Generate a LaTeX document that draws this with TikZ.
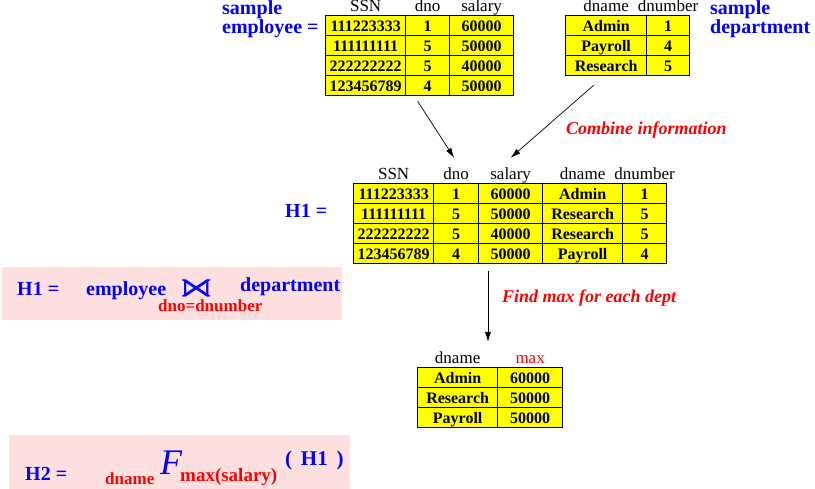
\documentclass[tikz,border=0pt]{standalone}
\usepackage{amssymb}
\usepackage{graphicx}
\usepackage{fontspec}
\setmainfont{Liberation Serif}
\usetikzlibrary{matrix, positioning, arrows.meta}

\definecolor{cellyellow}{RGB}{255,255,0}
\definecolor{formpink}{RGB}{255,224,224}

\begin{document}
\begin{tikzpicture}[x=1pt, y=-1pt, node distance=0pt,
  cell/.style={draw, fill=cellyellow, line width=0.9pt, minimum height=20pt, inner sep=0pt,
    text height=13pt, text depth=1pt, font=\bfseries\fontsize{16}{16}\selectfont},
  tbl/.style={matrix of nodes, nodes={cell}, column sep=-0.9pt, row sep=-0.9pt,
    anchor=north west, inner sep=0pt},
  hdr/.style={inner sep=0pt, text height=12pt, text depth=3pt, font=\fontsize{17}{17}\selectfont},
  lbl/.style={text=blue, inner sep=0pt, font=\bfseries\fontsize{20}{17}\selectfont},
  note/.style={text=red, inner sep=0pt, font=\bfseries\itshape\fontsize{18}{18}\selectfont},
  sub/.style={text=red, inner sep=0pt, font=\bfseries\fontsize{17}{17}\selectfont},
  arr/.style={-{Latex[length=10pt, width=6pt]}, line width=0.7pt}]
  \useasboundingbox (0,0) rectangle (815,489);

  % sample tables
  \matrix (emp) [tbl, column 1/.style={nodes={minimum width=80pt}},
    column 2/.style={nodes={minimum width=44pt}},
    column 3/.style={nodes={minimum width=64pt}}] at (325,15) {
    111223333 & 1 & 60000 \\
    111111111 & 5 & 50000 \\
    222222222 & 5 & 40000 \\
    123456789 & 4 & 50000 \\
  };
  \node[hdr] (essn) [above=of emp-1-1] {SSN};
  \node[hdr] (edno) [above=of emp-1-2] {dno};
  \node[hdr] (esal) [above=of emp-1-3] {salary};
  \node[lbl, anchor=north west, align=left] (emplbl) at (222,0) {sample\\employee =};

  \matrix (dept) [tbl, column 1/.style={nodes={minimum width=81pt}},
    column 2/.style={nodes={minimum width=43pt}}] at (565,15) {
    Admin & 1 \\
    Payroll & 4 \\
    Research & 5 \\
  };
  \node[hdr] (dname) [above=of dept-1-1] {dname};
  \node[hdr] (dnum) [above=of dept-1-2] {dnumber};
  \node[lbl, anchor=north west, align=left] (deptlbl) at (710,0) {sample\\department};

  % joined table
  \matrix (h1) [tbl, column 1/.style={nodes={minimum width=80pt}},
    column 2/.style={nodes={minimum width=45pt}},
    column 3/.style={nodes={minimum width=64pt}},
    column 4/.style={nodes={minimum width=80pt}},
    column 5/.style={nodes={minimum width=44pt}}] at (353,183) {
    111223333 & 1 & 60000 & Admin & 1 \\
    111111111 & 5 & 50000 & Research & 5 \\
    222222222 & 5 & 40000 & Research & 5 \\
    123456789 & 4 & 50000 & Payroll & 4 \\
  };
  \node[hdr] (hssn) [above=of h1-1-1] {SSN};
  \node[hdr] (hdno) [above=of h1-1-2] {dno};
  \node[hdr] (hsal) [above=of h1-1-3] {salary};
  \node[hdr] (hdname) [above=of h1-1-4] {dname};
  \node[hdr] (hdnum) [above=of h1-1-5] {dnumber};
  \node[lbl, anchor=base west] (h1lbl) at (285,218) {H1 =};

  % result table
  \matrix (res) [tbl, column 1/.style={nodes={minimum width=80pt}},
    column 2/.style={nodes={minimum width=65pt}}] at (417,367) {
    Admin & 60000 \\
    Research & 50000 \\
    Payroll & 50000 \\
  };
  \node[hdr] (rdname) [above=of res-1-1] {dname};
  \node[hdr, text=red] (rmax) [above=of res-1-2] {max};

  \draw[arr] ([shift={(-2,5)}]emp.south) -- ([shift={(-2,-10)}]hdno.north);
  \draw[arr] ([shift={(-34,9)}]dept.south) -- ([shift={(0,-10)}]hsal.north);
  \node[note, anchor=base west] (combine) at (566,135) {Combine information};

  \coordinate (findtip) at (488,342);
  \draw[arr] ([yshift=-7pt]findtip |- h1.south) -- (findtip);
  \node[note, anchor=base west] (findmax) at (502,303) {Find max for each dept};

  % formulas
  \fill[formpink] (2,267) rectangle (342,320);
  \node[lbl, anchor=base west] (h1def) at (17,296) {H1 =};
  \node[lbl, anchor=base west] (empname) at (86,296) {employee};
  \node[text=blue, inner sep=0pt, font=\fontsize{26}{26}\selectfont] (bowtie) at (197,288) {\scalebox{2.1}[1.4]{$\Join$}};
  \node[lbl, anchor=base west] (deptname) at (240,292) {department};
  \node[sub, anchor=base west] (joincond) at (158,312) {dno=dnumber};

  \fill[formpink] (9,435) rectangle (350,489);
  \node[lbl, anchor=base west] (h2def) at (25,480) {H2 =};
  \node[sub, anchor=base west] (grp) at (105,484) {dname};
  \node[text=blue, inner sep=0pt, anchor=base west, font=\itshape\fontsize{36}{36}\selectfont] (aggf) at (160,475) {F};
  \node[sub, anchor=base west, font=\bfseries\fontsize{19}{19}\selectfont] (aggfn) at (180,482) {max(salary)};
  \node[lbl, anchor=base west, font=\bfseries\fontsize{21}{21}\selectfont] (aggarg) at (285,465) {(\, H1\, )};
\end{tikzpicture}
\end{document}
